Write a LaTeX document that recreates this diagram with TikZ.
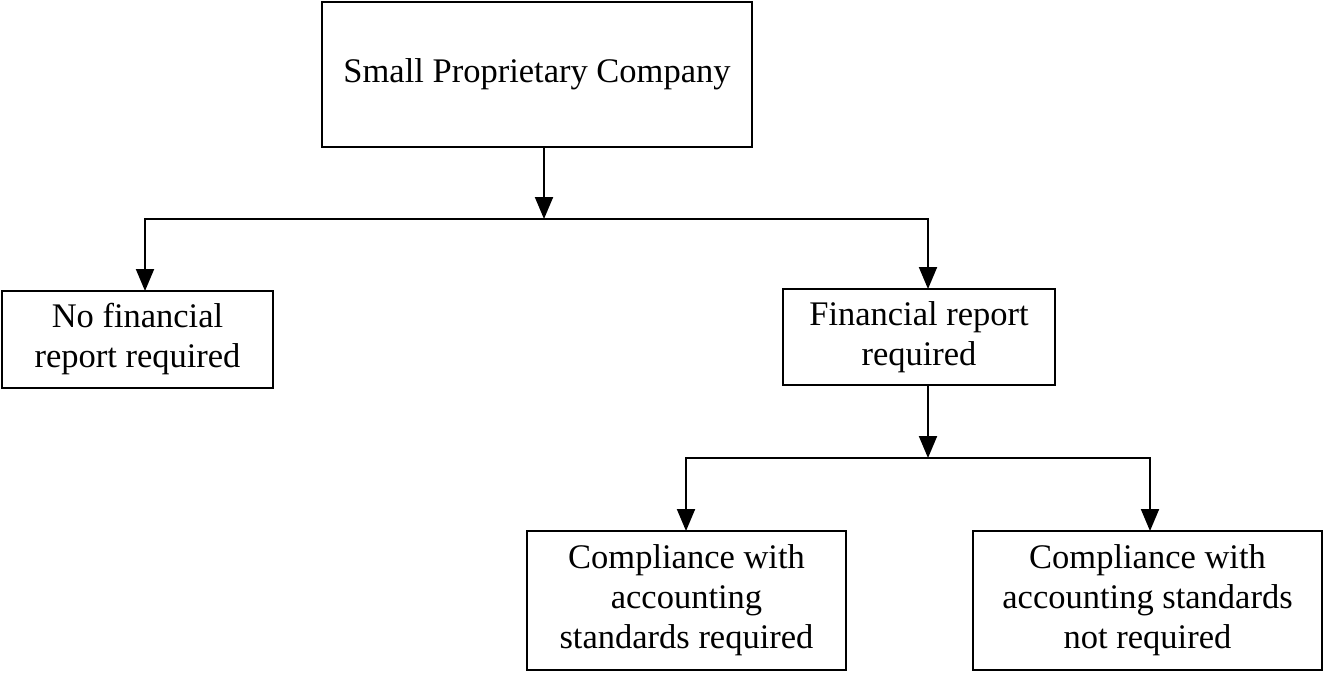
\documentclass[tikz,border=0pt]{standalone}
\usepackage{fontspec}
\setmainfont{Liberation Serif}
\usetikzlibrary{arrows.meta}
\begin{document}
\begin{tikzpicture}[x=1pt,y=-1pt,
  box/.style={draw, line width=2pt, inner sep=0pt, outer sep=0pt, align=center,
    font=\fontsize{34.5}{40}\selectfont},
  link/.style={line width=2pt},
  arr/.style={line width=2pt, -{Triangle[width=18pt,length=22pt]}}]
\useasboundingbox (0,0) rectangle (1324,672);
\node[box, minimum width=430pt, minimum height=145pt] (top) at (537,74.5) {Small Proprietary Company};
\node[box, minimum width=271pt, minimum height=97pt] (left) at (137.5,339.5) {No financial\\report required};
\node[box, minimum width=272pt, minimum height=96pt] (right) at (919,337) {Financial report\\required};
\node[box, minimum width=319pt, minimum height=139pt] (bl) at (686.5,600.5) {Compliance with\\accounting\\standards required};
\node[box, minimum width=349pt, minimum height=139pt] (br) at (1147.5,600.5) {Compliance with\\accounting standards\\not required};
\coordinate (j1) at (544,219);
\coordinate (j1l) at (145,219);
\coordinate (j1r) at (928,219);
\coordinate (j2) at (928,458);
\coordinate (j2l) at (686,458);
\coordinate (j2r) at (1150,458);
\draw[arr] (top.south -| j1) -- (j1);
\draw[arr] (j1r) -- (j1l) -- (left.north -| j1l);
\draw[arr] (j1l) -- (j1r) -- (right.north -| j1r);
\draw[arr] (right.south -| j2) -- (j2);
\draw[arr] (j2r) -- (j2l) -- (bl.north -| j2l);
\draw[arr] (j2l) -- (j2r) -- (br.north -| j2r);
\end{tikzpicture}
\end{document}
